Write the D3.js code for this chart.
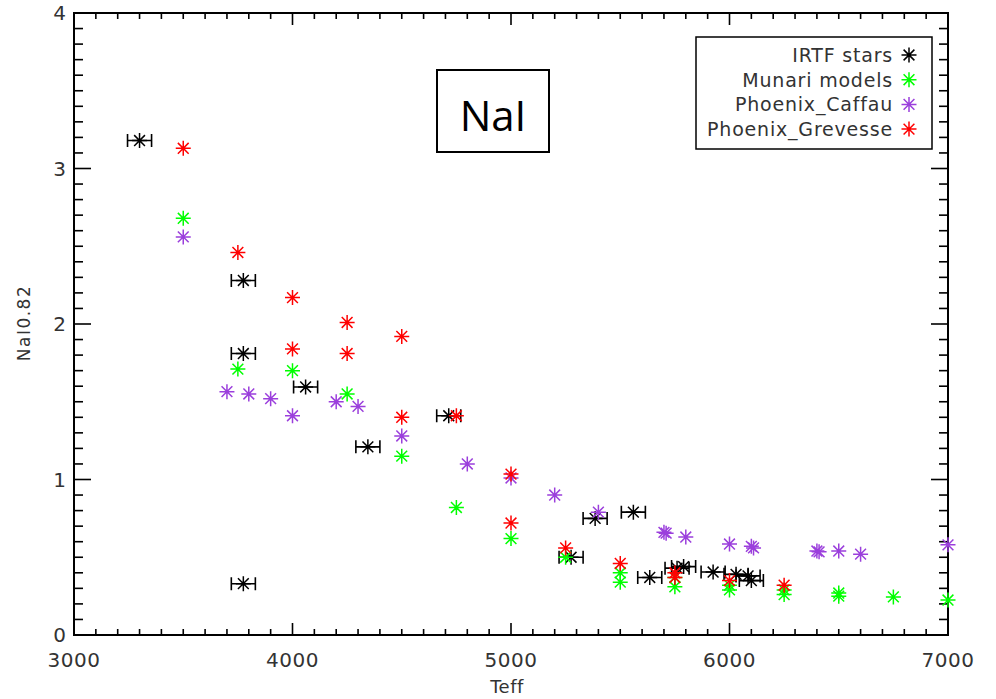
<!DOCTYPE html>
<html>
<head>
<meta charset="utf-8">
<script src="https://cdn.jsdelivr.net/npm/d3@7"></script>
<style>
body{margin:0;background:#fff;}
text{font-family:"DejaVu Sans",sans-serif;}
</style>
</head>
<body>
<div class="canvas"></div>
<script>
// data: [Teff, NaI0.82]
const irtf=[[3300,3.18],[3775,2.28],[3775,1.81],[4060,1.595],[4345,1.21],[4715,1.41],[3775,0.33],
  [5385,0.75],[5560,0.79],[5275,0.50],[5635,0.37],[5760,0.43],[5790,0.44],[5925,0.405],[6030,0.39],[6085,0.38],[6100,0.35]];
const munari=[[3500,2.68],[3750,1.71],[4000,1.70],[4250,1.55],[4500,1.15],[4750,0.82],[5000,0.62],[5250,0.50],
  [5500,0.40],[5500,0.34],[5750,0.37],[5750,0.31],[6000,0.32],[6000,0.29],[6250,0.29],[6250,0.26],[6500,0.27],[6500,0.25],[6750,0.245],[7000,0.225]];
const caffau=[[3500,2.56],[3700,1.565],[3800,1.55],[3900,1.52],[4000,1.41],[4200,1.50],[4300,1.47],[4500,1.28],[4800,1.10],
  [5000,1.01],[5200,0.90],[5400,0.79],[5700,0.66],[5710,0.655],[5800,0.63],[6000,0.585],[6100,0.57],[6110,0.56],[6400,0.54],[6410,0.535],[6500,0.54],[6600,0.52],[7000,0.58]];
const grevesse=[[3500,3.13],[3750,2.46],[4000,2.17],[4000,1.84],[4250,2.01],[4250,1.81],[4500,1.92],[4500,1.40],[4750,1.41],
  [5000,1.035],[5000,0.72],[5250,0.56],[5500,0.46],[5750,0.40],[5750,0.37],[6000,0.35],[6250,0.32]];
const xerr=55;
const xTicks=[3000,4000,5000,6000,7000];
const yTicks=[0,1,2,3,4];
const series=[
  {name:'IRTF stars',data:irtf,colour:'#000000'},
  {name:'Munari models',data:munari,colour:'#00ff00'},
  {name:'Phoenix_Caffau',data:caffau,colour:'#9b3fdc'},
  {name:'Phoenix_Grevesse',data:grevesse,colour:'#ff0000'}
];

const dims={width:996,height:699};
const m={left:74,right:948,top:13,bottom:635};

const svg=d3.select('.canvas').append('svg')
  .attr('width',dims.width).attr('height',dims.height);

const x=d3.scaleLinear().domain([3000,7000]).range([m.left,m.right]);
const y=d3.scaleLinear().domain([0,4]).range([m.bottom,m.top]);

// inward ticks on all four sides
const xMinor=d3.range(3000,7001,100), yMinor=d3.range(0,4.001,0.1);
const axes=svg.append('g').attr('stroke','#000').attr('stroke-width',1.6);
xMinor.forEach(v=>{
  const big=xTicks.includes(v), len=big?12:6;
  axes.append('line').attr('x1',x(v)).attr('x2',x(v)).attr('y1',m.bottom).attr('y2',m.bottom-len);
  axes.append('line').attr('x1',x(v)).attr('x2',x(v)).attr('y1',m.top).attr('y2',m.top+len);
});
yMinor.forEach(v=>{
  const big=Math.abs(v-Math.round(v))<1e-6, len=big?17:9;
  axes.append('line').attr('y1',y(v)).attr('y2',y(v)).attr('x1',m.left).attr('x2',m.left+len);
  axes.append('line').attr('y1',y(v)).attr('y2',y(v)).attr('x1',m.right).attr('x2',m.right-len);
});
svg.append('rect').attr('x',m.left).attr('y',m.top).attr('width',m.right-m.left).attr('height',m.bottom-m.top)
  .attr('fill','none').attr('stroke','#000').attr('stroke-width',2);

// tick labels
svg.selectAll('.xl').data(xTicks).enter().append('text')
  .attr('x',d=>x(d)).attr('y',667).attr('text-anchor','middle')
  .attr('font-size',20).attr('letter-spacing',0.5).attr('fill','#333').text(d=>d);
svg.selectAll('.yl').data(yTicks).enter().append('text')
  .attr('x',66).attr('y',d=>y(d)+7).attr('text-anchor','end')
  .attr('font-size',20).attr('fill','#333').text(d=>d);

svg.append('text').attr('x',507).attr('y',693).attr('text-anchor','middle')
  .attr('font-size',18).attr('letter-spacing',0.5).attr('fill','#333').text('Teff');
svg.append('text').attr('transform','translate(30,323) rotate(-90)').attr('text-anchor','middle')
  .attr('font-size',17).attr('letter-spacing',1.5).attr('fill','#333').text('NaI0.82');

// asterisk marker
const r=7.5, rd=r*0.72;
const star=`M${-r},0L${r},0M0,${-r}L0,${r}M${-rd},${-rd}L${rd},${rd}M${-rd},${rd}L${rd},${-rd}`;

const plot=svg.append('g');
series.forEach((s,si)=>{
  const g=plot.append('g');
  if(si===0){
    // horizontal error bars with caps
    g.selectAll('.eb').data(s.data).enter().append('path')
      .attr('d',d=>{
        const x0=x(d[0]-xerr), x1=x(d[0]+xerr), yy=y(d[1]);
        return `M${x0},${yy}L${x1},${yy}M${x0},${yy-6.5}L${x0},${yy+6.5}M${x1},${yy-6.5}L${x1},${yy+6.5}`;
      })
      .attr('stroke',s.colour).attr('stroke-width',1.6).attr('fill','none');
  }
  g.selectAll('.pt').data(s.data).enter().append('path')
    .attr('transform',d=>`translate(${x(d[0])},${y(d[1])})`)
    .attr('d',star).attr('stroke',s.colour).attr('stroke-width',1.5).attr('fill','none');
});

// legend
const lg=svg.append('g');
lg.append('rect').attr('x',696).attr('y',37).attr('width',236).attr('height',112)
  .attr('fill','#fff').attr('stroke','#000').attr('stroke-width',1.5);
series.forEach((s,i)=>{
  const yy=55+i*24.7;
  lg.append('text').attr('x',893).attr('y',yy+7).attr('text-anchor','end')
    .attr('font-size',19).attr('letter-spacing',0.8).attr('fill','#333').text(s.name);
  lg.append('path').attr('transform',`translate(909,${yy})`).attr('d',star)
    .attr('stroke',s.colour).attr('stroke-width',1.5).attr('fill','none');
});

// title box
svg.append('rect').attr('x',437).attr('y',70).attr('width',112).attr('height',82)
  .attr('fill','#fff').attr('stroke','#000').attr('stroke-width',2);
svg.append('text').attr('x',493).attr('y',131).attr('text-anchor','middle')
  .attr('font-size',42).attr('fill','#000').style('font-family','"Open Sans",sans-serif').text('NaI');
</script>
</body>
</html>
